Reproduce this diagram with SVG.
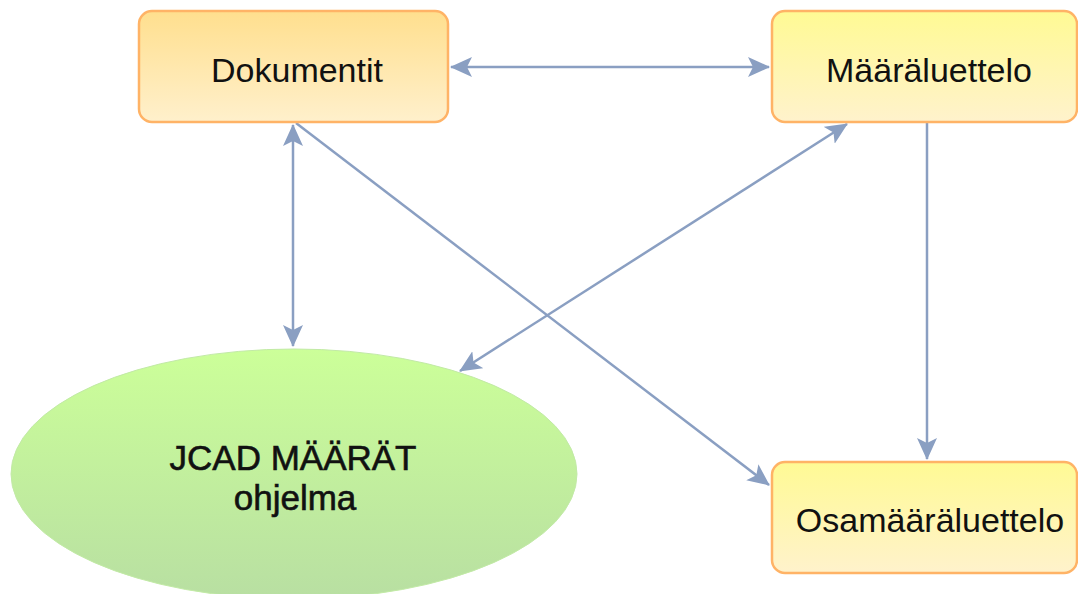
<svg xmlns="http://www.w3.org/2000/svg" width="1078" height="594" viewBox="0 0 1078 594">
<style>
.box{stroke:#FFB366;stroke-width:2.5}
.lbl{font-family:"Liberation Sans",Arial,sans-serif;font-size:34px;fill:#111111;text-anchor:middle}
.conn{stroke:#8A9FC2;stroke-width:2.5;fill:none}
</style>
<defs>
<linearGradient id="gOrange" x1="0" y1="0" x2="0" y2="1">
<stop offset="0" stop-color="#FFDF8E"/>
<stop offset="1" stop-color="#FFF0CC"/>
</linearGradient>
<linearGradient id="gYellow" x1="0" y1="0" x2="0" y2="1">
<stop offset="0" stop-color="#FFFA94"/>
<stop offset="1" stop-color="#FFF2CC"/>
</linearGradient>
<linearGradient id="gGreen" x1="0" y1="0" x2="0" y2="1">
<stop offset="0" stop-color="#CCFF99"/>
<stop offset="1" stop-color="#B8DFA2"/>
</linearGradient>
<marker id="arr" viewBox="0 0 22 22" refX="21" refY="11" markerWidth="22" markerHeight="22" markerUnits="userSpaceOnUse" orient="auto-start-reverse">
<path d="M0,1 L22,11 L0,21 L5,11 Z" fill="#8A9FC2"/>
</marker>
</defs>
<g id="connectors">
<line class="conn" x1="451" y1="67" x2="769" y2="67" marker-start="url(#arr)" marker-end="url(#arr)"/>
<line class="conn" x1="293" y1="125" x2="293" y2="346" marker-start="url(#arr)" marker-end="url(#arr)"/>
<line class="conn" x1="296" y1="123" x2="769" y2="485" marker-end="url(#arr)"/>
<line class="conn" x1="847" y1="124" x2="460" y2="371" marker-start="url(#arr)" marker-end="url(#arr)"/>
<line class="conn" x1="927" y1="123" x2="927" y2="459" marker-end="url(#arr)"/>
</g>
<g id="node-dokumentit">
<rect class="box" x="139" y="11" width="309" height="111" rx="13" fill="url(#gOrange)"/>
<text class="lbl" x="297" y="82">Dokumentit</text>
</g>
<g id="node-maaraluettelo">
<rect class="box" x="772" y="11" width="305" height="111" rx="13" fill="url(#gYellow)"/>
<text class="lbl" x="929" y="82">Määräluettelo</text>
</g>
<g id="node-osamaaraluettelo">
<rect class="box" x="772" y="462" width="305" height="111" rx="13" fill="url(#gYellow)"/>
<text class="lbl" x="930" y="532">Osamääräluettelo</text>
</g>
<g id="node-jcad">
<ellipse cx="294" cy="474" rx="283" ry="125" fill="url(#gGreen)" stroke="#C2EAA6" stroke-width="1"/>
<text class="lbl" x="293" y="470" style="font-size:35px" stroke="#111111" stroke-width="0.6">JCAD MÄÄRÄT</text>
<text class="lbl" x="295" y="510" style="font-size:35px" stroke="#111111" stroke-width="0.6">ohjelma</text>
</g>
</svg>
